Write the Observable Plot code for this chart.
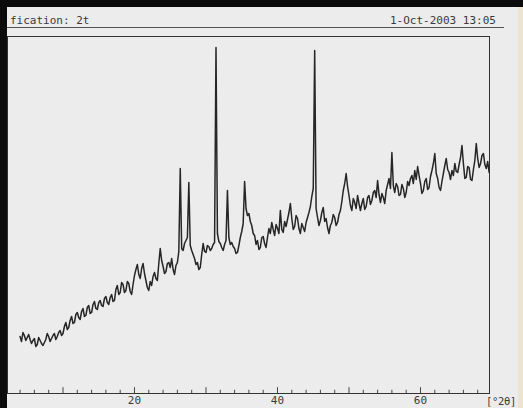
<!DOCTYPE html>
<html>
<head>
<meta charset="utf-8">
<script src="https://cdn.jsdelivr.net/npm/d3@7"></script>
<script src="https://cdn.jsdelivr.net/npm/@observablehq/plot@0.6"></script>
<style>
  body { margin: 0; background: #ececec; }
  #wrap { position: relative; width: 523px; height: 408px; overflow: hidden; background: #ececec;
          font-family: "DejaVu Sans Mono", monospace; color: #3a3a3a; }
  .blk-l { position: absolute; left: 0; top: 0; width: 7px; height: 408px; background: #0b0b0b; }
  .blk-t { position: absolute; left: 0; top: 0; width: 523px; height: 7px; background: #0b0b0b; }
  .edge-r { position: absolute; right: 0; top: 7px; width: 5px; height: 401px; background: #ebe4cf; }
  .hdr { position: absolute; font-size: 11px; line-height: 11px; top: 15px; white-space: pre; }
  .uline { position: absolute; left: 7px; top: 27px; width: 497px; height: 1px; background: #555; }
  .unit { position: absolute; left: 486px; top: 396px; font-size: 10.5px; line-height: 11px; white-space: pre; letter-spacing: -0.3px; }
  #chart { position: absolute; left: 0; top: 0; }
</style>
</head>
<body>
<div id="wrap">
  <div id="chart"></div>
  <div class="blk-l"></div>
  <div class="blk-t"></div>
  <div class="edge-r"></div>
  <div class="hdr" style="left:10px">fication: 2t</div>
  <div class="hdr" style="left:390px">1-Oct-2003 13:05</div>
  <div class="uline"></div>
  <div class="unit">[°2θ]</div>
</div>
<script>
// Scan: start angle and step (°2θ)
const startAngle = 4.0;
const stepSize = 0.2;
// Intensity (counts), one per step from 4.0° to 69.6°
const counts = [
  570, 520, 610, 580, 530, 560, 590, 540, 500, 530, 550, 470, 490, 560, 530, 500, 480, 510, 540, 600,             // 4.0 - 7.8
  570, 520, 550, 580, 600, 540, 570, 610, 630, 580, 600, 670, 710, 640, 660, 730, 770, 700, 710, 790,             // 8.0 - 11.8
  810, 760, 740, 820, 850, 770, 780, 860, 880, 800, 810, 890, 920, 850, 840, 910, 930, 880, 870, 950,             // 12.0 - 15.8
  970, 910, 890, 960, 990, 920, 930, 1040, 1080, 990, 1010, 1110, 1090, 1010, 1030, 1120, 1100, 1020, 990, 1090,  // 16.0 - 19.8
  1180, 1240, 1290, 1190, 1150, 1250, 1300, 1200, 1130, 1060, 1030, 1120, 1080, 1170, 1210, 1150, 1130, 1300, 1450, 1330, // 20.0 - 23.8
  1270, 1200, 1220, 1300, 1310, 1260, 1350, 1240, 1190, 1280, 1310, 1420, 2250, 1450, 1430, 1500, 1530, 1560, 2110, 1480, // 24.0 - 27.8
  1430, 1390, 1350, 1290, 1310, 1240, 1260, 1390, 1500, 1420, 1410, 1480, 1470, 1430, 1450, 1490, 1510, 3460, 1600, 1520, // 28.0 - 31.8
  1500, 1460, 1430, 1490, 1530, 2030, 1560, 1490, 1510, 1470, 1450, 1400, 1410, 1480, 1560, 1620, 1700, 2120, 1850, 1780, // 32.0 - 35.8
  1800, 1720, 1680, 1600, 1580, 1490, 1530, 1440, 1460, 1560, 1570, 1500, 1460, 1560, 1650, 1600, 1710, 1640, 1580, 1690, // 36.0 - 39.8
  1650, 1600, 1830, 1640, 1610, 1720, 1670, 1740, 1810, 1900, 1750, 1640, 1670, 1780, 1750, 1650, 1600, 1700, 1660, 1620, // 40.0 - 43.8
  1710, 1760, 1810, 1870, 1970, 2050, 3430, 1850, 1760, 1680, 1730, 1810, 1860, 1720, 1750, 1660, 1600, 1680, 1710, 1790, // 44.0 - 47.8
  1760, 1680, 1710, 1790, 1830, 1920, 2030, 2100, 2200, 2070, 1980, 1880, 1830, 1950, 1910, 1850, 1980, 1900, 1830, 1900, // 48.0 - 51.8
  1950, 1840, 1870, 1960, 1980, 1890, 1930, 2010, 2030, 1960, 2130, 1990, 1910, 2000, 1960, 1900, 2030, 2090, 2150, 2050, // 52.0 - 55.8
  2410, 2080, 2010, 2100, 2070, 1980, 1990, 2090, 2050, 1960, 2010, 2120, 2080, 2150, 2180, 2100, 2230, 2140, 2270, 2180, // 56.0 - 59.8
  2100, 2000, 2030, 2120, 2150, 2040, 2060, 2170, 2230, 2300, 2400, 2200, 2150, 2060, 2030, 2120, 2200, 2280, 2350, 2240, // 60.0 - 63.8
  2210, 2140, 2230, 2180, 2300, 2220, 2210, 2290, 2360, 2480, 2300, 2150, 2160, 2270, 2260, 2140, 2130, 2240, 2330, 2500, // 64.0 - 67.8
  2350, 2260, 2300, 2380, 2400, 2290, 2250, 2320, 2210                                                             // 68.0 - 69.6
];
const tickLabels = [20, 40, 60];
const majorTicks = [10, 20, 30, 40, 50, 60];
const minorTicks = [4, 6, 8, 12, 14, 16, 18, 22, 24, 26, 28, 32, 34, 36, 38, 42, 44, 46, 48, 52, 54, 56, 58, 62, 64, 66, 68];

const scan = counts.map((c, i) => ({ angle: +(startAngle + i * stepSize).toFixed(2), counts: c }));

const plot = Plot.plot({
  width: 523,
  height: 408,
  marginLeft: 7,
  marginRight: 34,
  marginTop: 36,
  marginBottom: 15,
  style: { background: "transparent", fontFamily: "DejaVu Sans Mono, monospace", fontSize: "11px", color: "#3a3a3a" },
  x: { domain: [2.24, 69.65] },
  y: { domain: [0, 3570], axis: null },
  marks: [
    Plot.frame({ stroke: "#333", strokeWidth: 1 }),
    Plot.ruleX(minorTicks, { x: d => d, y1: 0, y2: 32, stroke: "#444", strokeWidth: 1 }),
    Plot.ruleX(majorTicks, { x: d => d, y1: 0, y2: 58, stroke: "#444", strokeWidth: 1 }),
    Plot.line(scan, { x: "angle", y: "counts", stroke: "#262626", strokeWidth: 1.5, strokeLinejoin: "round" }),
    Plot.axisX({ ticks: tickLabels, tickSize: 0, tickPadding: 3, tickFormat: d => String(d), label: null, fill: "#3a3a3a" })
  ]
});
document.getElementById("chart").appendChild(plot);
</script>
</body>
</html>
